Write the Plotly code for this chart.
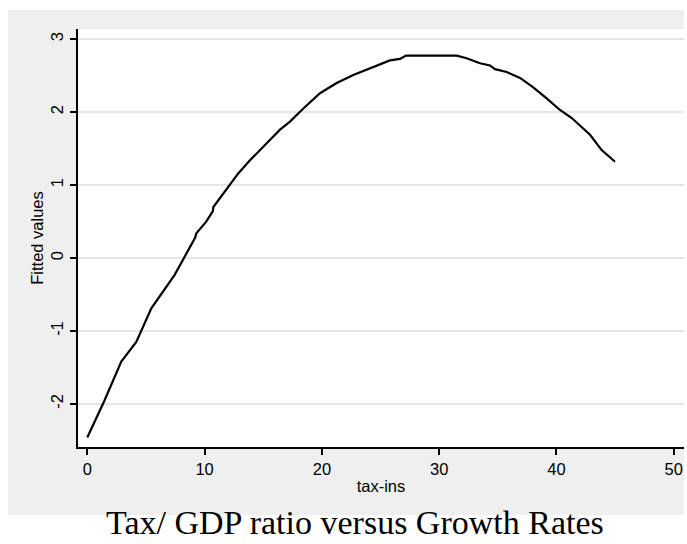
import plotly.graph_objects as go

# Fitted values against the tax share (sorted by tax-ins)
tax_ins = [0, 1.42, 2.90, 4.18, 5.46, 7.45, 9.2, 9.3, 10.14, 10.7, 10.75, 11.6,
           12.87, 13.87, 14.87, 16.43, 17.28, 18.42, 19.84, 21.26, 22.68, 24.38,
           25.8, 26.66, 27.17, 31.49, 32.34, 33.48, 34.33, 34.76, 35.75, 36.89,
           38.02, 39.16, 40.3, 41.3, 42.86, 43.85, 44.99]
fitted = [-2.46, -1.97, -1.42, -1.15, -0.69, -0.23, 0.28, 0.34, 0.50, 0.64, 0.70, 0.89,
          1.16, 1.34, 1.50, 1.76, 1.87, 2.05, 2.26, 2.40, 2.51, 2.62,
          2.71, 2.73, 2.775, 2.775, 2.74, 2.67, 2.64, 2.59, 2.55, 2.47,
          2.34, 2.19, 2.03, 1.92, 1.69, 1.48, 1.32]

x_ticks = [0, 10, 20, 30, 40, 50]
y_ticks = [-2, -1, 0, 1, 2, 3]
x_title = "tax-ins"
y_title = "Fitted values"
caption = "Tax/ GDP ratio versus Growth Rates"

W, H = 687, 544
L, R, T, B = 78, 3, 29, 97
pw, ph = W - L - R, H - T - B

def px_x(p):
    return (p - L) / pw

def px_y(p):
    return (H - B - p) / ph

fig = go.Figure()
fig.add_trace(go.Scatter(
    x=tax_ins, y=fitted, mode="lines",
    line=dict(color="black", width=2.2),
    showlegend=False, hoverinfo="skip",
))

sans = "Liberation Sans, Arial, sans-serif"
fs = 16.5

fig.update_layout(
    width=W, height=H,
    margin=dict(l=L, r=R, t=T, b=B, pad=0),
    paper_bgcolor="white",
    plot_bgcolor="white",
    font=dict(family=sans, size=fs, color="black"),
    shapes=[
        # grey graph region
        dict(type="rect", xref="paper", yref="paper", layer="below",
             x0=px_x(8), x1=px_x(684), y0=px_y(515), y1=px_y(10),
             fillcolor="#EFEFEF", line=dict(width=0)),
        # white plot region
        dict(type="rect", xref="paper", yref="paper", layer="below",
             x0=0, x1=1, y0=0, y1=1,
             fillcolor="white", line=dict(width=0)),
    ],
    annotations=[
        dict(text=caption, xref="paper", yref="paper",
             x=px_x(354.5), y=px_y(522.5), xanchor="center", yanchor="middle",
             showarrow=False,
             font=dict(family="Liberation Serif, Times New Roman, serif", size=34, color="black")),
    ],
)

fig.update_xaxes(
    range=[-0.79, 50.87],
    tickvals=x_ticks, ticktext=[str(v) for v in x_ticks],
    showline=True, linecolor="black", linewidth=2,
    ticks="outside", ticklen=6, tickwidth=2, tickcolor="black",
    showgrid=False, zeroline=False,
    tickfont=dict(family=sans, size=fs),
    title=dict(text=x_title, font=dict(family=sans, size=fs), standoff=4),
)
fig.update_yaxes(
    range=[-2.59, 3.14],
    tickvals=y_ticks, ticktext=[str(v) for v in y_ticks],
    tickangle=-90,
    showline=True, linecolor="black", linewidth=2,
    ticks="outside", ticklen=6, tickwidth=2, tickcolor="black",
    showgrid=True, gridcolor="#E6E6E6", gridwidth=2,
    zeroline=False,
    tickfont=dict(family=sans, size=fs),
    title=dict(text=y_title, font=dict(family=sans, size=fs), standoff=1),
)

fig.write_html("out.html")
